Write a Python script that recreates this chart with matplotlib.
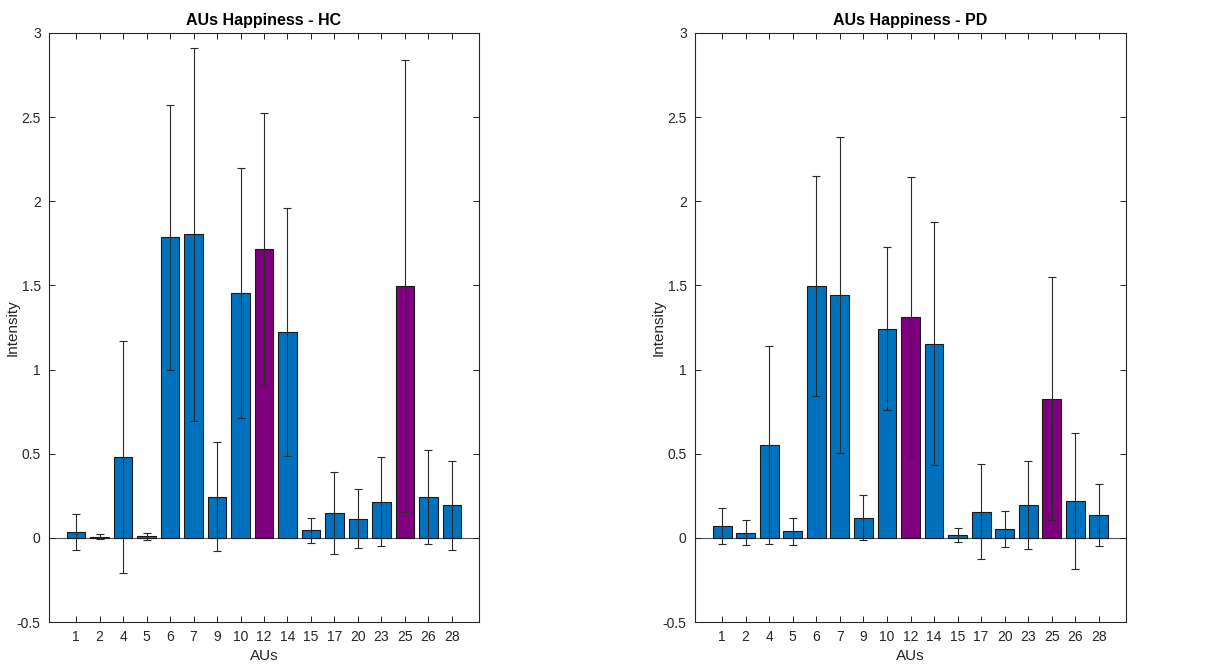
import matplotlib
matplotlib.use("Agg")
import matplotlib.pyplot as plt
import numpy as np

plt.rcParams['font.family'] = ['Liberation Sans', 'DejaVu Sans']

# Action units shown on the x axis
aus = ['1', '2', '4', '5', '6', '7', '9', '10', '12', '14', '15', '17', '20', '23', '25', '26', '28']
highlight = ['12', '25']

# Healthy controls: mean intensity and standard deviation per AU
hc_mean = [0.036, 0.006, 0.48, 0.01, 1.785, 1.803, 0.243, 1.453, 1.717, 1.223,
           0.045, 0.148, 0.115, 0.215, 1.499, 0.243, 0.194]
hc_std = [0.107, 0.015, 0.69, 0.02, 0.79, 1.107, 0.324, 0.742, 0.807, 0.735,
          0.073, 0.244, 0.178, 0.266, 1.343, 0.281, 0.264]

# Parkinson's patients: mean intensity and standard deviation per AU
pd_mean = [0.069, 0.030, 0.551, 0.038, 1.495, 1.445, 0.119, 1.243, 1.310, 1.154,
           0.018, 0.156, 0.051, 0.194, 0.828, 0.221, 0.134]
pd_std = [0.107, 0.075, 0.59, 0.08, 0.655, 0.938, 0.134, 0.486, 0.832, 0.722,
          0.042, 0.283, 0.106, 0.262, 0.723, 0.405, 0.185]

BLUE = '#0072BD'
PURPLE = '#7E007E'
AXC = '#262626'

W, H = 1208, 666
fig = plt.figure(figsize=(W / 100, H / 100), dpi=100)
fig.patch.set_facecolor('white')


def panel(rect, means, stds, title):
    ax = fig.add_axes(rect)
    x = np.arange(1, len(aus) + 1)
    colors = [PURPLE if a in highlight else BLUE for a in aus]
    ax.bar(x, means, width=0.8, color=colors, edgecolor='#1a1a1a', linewidth=0.8, zorder=2)
    ax.errorbar(x, means, yerr=stds, fmt='none', ecolor='#2a2a2a', elinewidth=0.8,
                capsize=3, capthick=0.8, zorder=3)
    ax.axhline(0, color='#555555', linewidth=0.8, zorder=1)
    ax.set_xlim(-0.15, 18.15)
    ax.set_ylim(-0.5, 3)
    ax.set_xticks(x)
    ax.set_xticklabels(aus)
    yt = np.arange(-0.5, 3.01, 0.5)
    ax.set_yticks(yt)
    ax.set_yticklabels([('%g' % v) for v in yt])
    ax.tick_params(direction='in', top=True, right=True, length=4, width=0.7,
                   colors=AXC, labelsize=10, labelcolor=AXC, pad=6)
    for s in ax.spines.values():
        s.set_color(AXC)
        s.set_linewidth(0.8)
    ax.set_title(title, fontsize=11.5, fontweight='bold', pad=6, color='black')
    ax.set_xlabel('AUs', fontsize=11, color=AXC, labelpad=3)
    ax.set_ylabel('Intensity', fontsize=11, color=AXC)
    ax.yaxis.set_label_coords(-0.068, 0.5)
    return ax


top, bottom = 33, 622
panel([49 / W, (H - bottom) / H, 430 / W, (bottom - top) / H], hc_mean, hc_std,
      'AUs Happiness - HC')
panel([695 / W, (H - bottom) / H, 431 / W, (bottom - top) / H], pd_mean, pd_std,
      'AUs Happiness - PD')

fig.savefig('out.png', dpi=100)
